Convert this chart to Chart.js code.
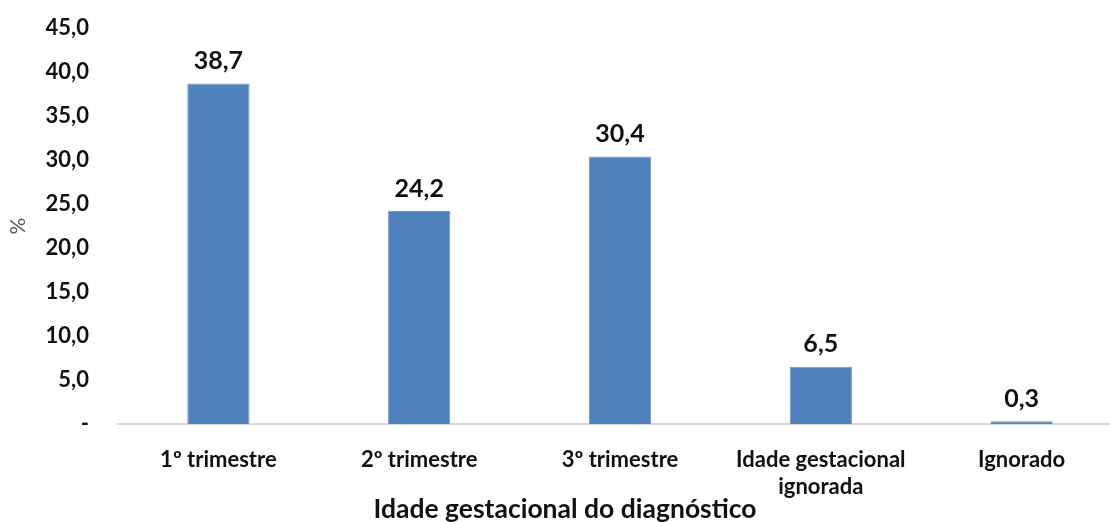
<!DOCTYPE html>
<html>
<head>
<meta charset="utf-8">
<script src="https://cdn.jsdelivr.net/npm/chart.js@4/dist/chart.umd.min.js"></script>
<style>
  html, body { margin: 0; padding: 0; background: #fff; overflow: hidden; }
  #wrap { position: relative; width: 1122px; height: 522px; }
</style>
</head>
<body>
<div id="wrap"><canvas id="c"></canvas></div>
<script>
// Distribuição por idade gestacional no momento do diagnóstico (%)
const categories = [
  '1º trimestre',
  '2º trimestre',
  '3º trimestre',
  ['Idade gestacional', 'ignorada'],
  'Ignorado'
];
const percentages = [38.7, 24.2, 30.4, 6.5, 0.3];
const yTicks = [0, 5, 10, 15, 20, 25, 30, 35, 40, 45];
const xTitle = 'Idade gestacional do diagnóstico';
const yTitle = '%';

const FONT = 'Lato, "Open Sans", sans-serif';
const fmt = v => v.toFixed(1).replace('.', ',');

// Writes each bar's value above it
const valueLabels = {
  id: 'valueLabels',
  afterDatasetsDraw(chart) {
    const ctx = chart.ctx;
    const meta = chart.getDatasetMeta(0);
    ctx.save();
    ctx.font = 'bold 25px ' + FONT;
    ctx.fillStyle = '#111';
    ctx.textAlign = 'center';
    ctx.textBaseline = 'bottom';
    meta.data.forEach((bar, i) => {
      ctx.fillText(fmt(percentages[i]), bar.x, bar.y - 10);
    });
    ctx.restore();
  }
};

// Axis title under the category labels, centred on the page width
const bottomTitle = {
  id: 'bottomTitle',
  afterDraw(chart) {
    const ctx = chart.ctx;
    ctx.save();
    ctx.font = 'bold 26.5px ' + FONT;
    ctx.fillStyle = '#111';
    ctx.textAlign = 'center';
    ctx.textBaseline = 'middle';
    ctx.fillText(xTitle, 565, chart.height - 13);
    ctx.restore();
  }
};

new Chart(document.getElementById('c'), {
  type: 'bar',
  data: {
    labels: categories,
    datasets: [{
      data: percentages,
      backgroundColor: '#4F81BD',
      borderColor: '#6c96c8',
      borderWidth: 1,
      categoryPercentage: 1,
      barPercentage: 0.31
    }]
  },
  options: {
    responsive: true,
    maintainAspectRatio: false,
    animation: false,
    layout: { padding: { top: 28, left: 0, right: 0, bottom: 0 } },
    plugins: {
      legend: { display: false },
      tooltip: { enabled: false },
      title: { display: false }
    },
    scales: {
      x: {
        afterFit(scale) { scale.height = 98; },
        grid: { display: false, drawTicks: false },
        border: { display: true, color: '#d9d9d9', width: 2 },
        ticks: {
          color: '#111',
          font: { family: FONT, size: 22, weight: 'bold', lineHeight: 1.2 },
          padding: 23,
          maxRotation: 0,
          autoSkip: false
        }
      },
      y: {
        min: 0,
        max: 45,
        afterBuildTicks(scale) {
          scale.ticks = yTicks.map(v => ({ value: v }));
        },
        afterFit(scale) {
          scale.width = 118;
          scale.paddingTop = 0;
          scale.paddingBottom = 0;
        },
        grid: { display: false, drawTicks: false },
        border: { display: false },
        ticks: {
          color: '#111',
          font: { family: FONT, size: 22, weight: 'bold' },
          padding: 29,
          callback: v => (v === 0 ? '-' : fmt(v))
        },
        title: {
          display: true,
          text: yTitle,
          color: '#595959',
          font: { family: FONT, size: 21 },
          padding: { top: 6, bottom: 0 }
        }
      }
    }
  },
  plugins: [valueLabels, bottomTitle]
});
</script>
</body>
</html>
